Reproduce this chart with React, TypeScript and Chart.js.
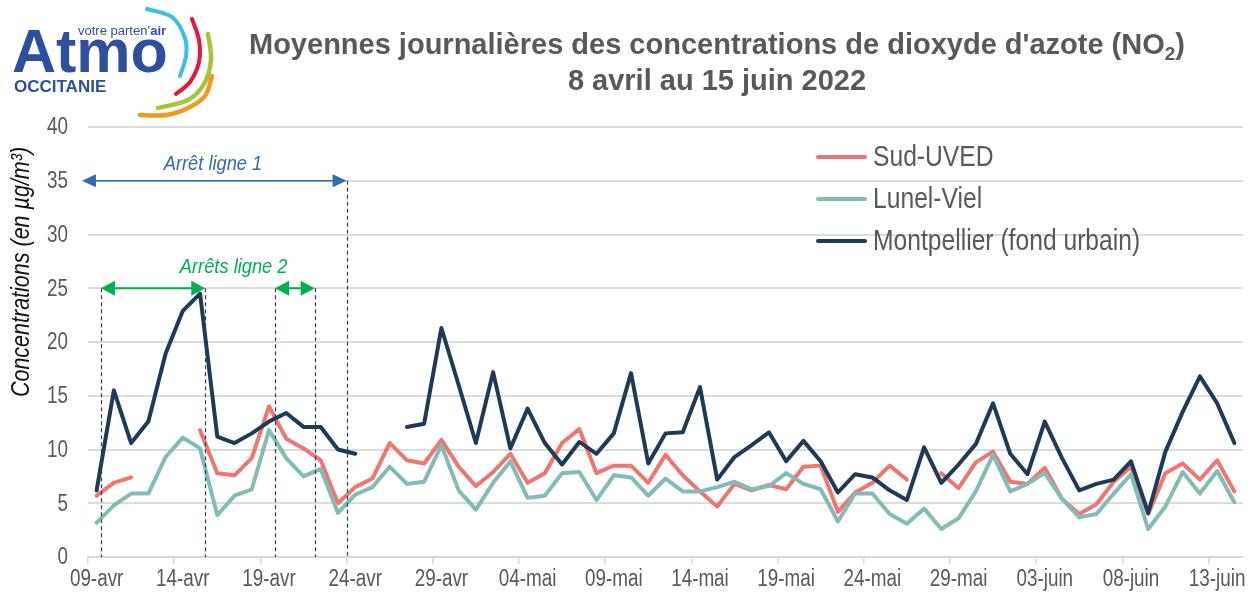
import React, { useEffect, useRef } from 'react';
import { Chart, registerables } from 'chart.js';

Chart.register(...registerables);

const categories = [
  '09-avr', '10-avr', '11-avr', '12-avr', '13-avr', '14-avr', '15-avr', '16-avr', '17-avr', '18-avr',
  '19-avr', '20-avr', '21-avr', '22-avr', '23-avr', '24-avr', '25-avr', '26-avr', '27-avr', '28-avr',
  '29-avr', '30-avr', '01-mai', '02-mai', '03-mai', '04-mai', '05-mai', '06-mai', '07-mai', '08-mai',
  '09-mai', '10-mai', '11-mai', '12-mai', '13-mai', '14-mai', '15-mai', '16-mai', '17-mai', '18-mai',
  '19-mai', '20-mai', '21-mai', '22-mai', '23-mai', '24-mai', '25-mai', '26-mai', '27-mai', '28-mai',
  '29-mai', '30-mai', '31-mai', '01-juin', '02-juin', '03-juin', '04-juin', '05-juin', '06-juin', '07-juin',
  '08-juin', '09-juin', '10-juin', '11-juin', '12-juin', '13-juin', '14-juin',
];

const sudUved = [
  5.7, 6.9, 7.4, null, null, null, 11.8, 7.8, 7.6, 9.2,
  14.0, 11.0, 10.1, 9.0, 5.0, 6.5, 7.3, 10.6, 9.0, 8.7,
  10.9, 8.4, 6.6, 7.9, 9.6, 6.9, 7.8, 10.6, 11.9, 7.8,
  8.5, 8.5, 6.9, 9.5, 7.6, 6.1, 4.7, 6.8, 6.2, 6.7,
  6.3, 8.4, 8.5, 4.2, 6.0, 6.9, 8.5, 7.2, null, 7.8,
  6.4, 8.8, 9.8, 7.0, 6.8, 8.3, 5.4, 4.0, 4.9, 7.0,
  8.4, 4.0, 7.8, 8.7, 7.2, 9.0, 6.1,
];

const lunelViel = [
  3.2, 4.8, 5.9, 5.9, 9.3, 11.1, 10.1, 3.9, 5.7, 6.3,
  11.8, 9.2, 7.5, 8.2, 4.1, 5.8, 6.5, 8.4, 6.8, 7.0,
  10.4, 6.2, 4.4, 6.9, 8.9, 5.5, 5.7, 7.8, 7.9, 5.3,
  7.6, 7.4, 5.7, 7.3, 6.1, 6.1, 6.5, 7.0, 6.3, 6.6,
  7.8, 6.8, 6.3, 3.3, 5.9, 5.9, 4.0, 3.1, 4.5, 2.6,
  3.6, 6.1, 9.5, 6.1, 6.8, 7.8, 5.4, 3.7, 4.0, 5.9,
  7.7, 2.6, 4.7, 7.9, 5.9, 8.0, 5.1,
];

const montpellier = [
  6.2, 15.5, 10.6, 12.6, 18.9, 22.9, 24.5, 11.2, 10.6, 11.5,
  12.6, 13.4, 12.1, 12.1, 10.0, 9.6, null, null, 12.1, 12.4,
  21.3, 16.0, 10.6, 17.2, 10.1, 13.8, 10.6, 8.6, 10.7, 9.6,
  11.5, 17.1, 8.7, 11.5, 11.6, 15.8, 7.2, 9.3, 10.4, 11.6,
  8.9, 10.8, 8.9, 6.0, 7.7, 7.4, 6.2, 5.3, 10.2, 6.9,
  8.6, 10.5, 14.3, 9.6, 7.7, 12.6, 9.2, 6.2, 6.8, 7.2,
  8.9, 4.1, 9.8, 13.5, 16.8, 14.3, 10.6,
];

const seriesNames = ['Sud-UVED', 'Lunel-Viel', 'Montpellier (fond urbain)'];
const seriesColors = ['#ef7571', '#82bcb9', '#1f3a55'];

const yMin = 0;
const yMax = 40;
const yStep = 5;
const xLabelEvery = 5;

const titleMain = "Moyennes journalières des concentrations de dioxyde d'azote (NO";
const titleSub = '2';
const titleEnd = ')';
const titleLine2 = '8 avril au 15 juin 2022';
const yAxisTitle = 'Concentrations (en µg/m³)';

// annotations, in category-index units (x) and concentration units (y)
const stop1Label = 'Arrêt ligne 1';
const stop1Range = [-0.85, 14.5];
const stop1Level = 35;
const stop1LabelPos = [6.75, 36.5];
const stop2Label = 'Arrêts ligne 2';
const stop2Ranges = [[0.25, 6.3], [10.35, 12.65]];
const stop2Level = 25;
const stop2LabelPos = [7.95, 27.0];
const dashedMarks25 = [0.25, 6.3, 10.35, 12.65];
const dashedMarks35 = [14.5];

const SANS = "'Liberation Sans', Arial, sans-serif";
const GREY = '#595959';

// draws text horizontally condensed, imitating Arial Narrow
function narrowText(ctx: CanvasRenderingContext2D, text: string, x: number, y: number, sx: number) {
  ctx.save();
  ctx.translate(x, y);
  ctx.scale(sx, 1);
  ctx.fillText(text, 0, 0);
  ctx.restore();
}

function smoothCurve(ctx: CanvasRenderingContext2D, pts: number[][]) {
  ctx.beginPath();
  ctx.moveTo(pts[0][0], pts[0][1]);
  for (let i = 0; i < pts.length - 1; i++) {
    const p0 = pts[Math.max(0, i - 1)];
    const p1 = pts[i];
    const p2 = pts[i + 1];
    const p3 = pts[Math.min(pts.length - 1, i + 2)];
    const c1x = p1[0] + (p2[0] - p0[0]) / 6;
    const c1y = p1[1] + (p2[1] - p0[1]) / 6;
    const c2x = p2[0] - (p3[0] - p1[0]) / 6;
    const c2y = p2[1] - (p3[1] - p1[1]) / 6;
    ctx.bezierCurveTo(c1x, c1y, c2x, c2y, p2[0], p2[1]);
  }
  ctx.stroke();
}

function drawLogo(ctx: CanvasRenderingContext2D) {
  ctx.save();
  ctx.lineCap = 'round';
  ctx.lineWidth = 4;
  ctx.strokeStyle = '#3dbde9';
  smoothCurve(ctx, [[147, 9], [172, 17], [185, 38], [186, 56], [180, 76]]);
  ctx.strokeStyle = '#e2183f';
  smoothCurve(ctx, [[192, 19], [199, 40], [199, 62], [190, 82], [176, 94]]);
  ctx.strokeStyle = '#a8c43a';
  ctx.lineWidth = 4.5;
  smoothCurve(ctx, [[208, 34], [211, 60], [204, 84], [188, 100], [158, 108]]);
  ctx.strokeStyle = '#f39a1e';
  smoothCurve(ctx, [[212, 76], [205, 96], [188, 108], [166, 115], [140, 115]]);

  ctx.fillStyle = '#2d4f9c';
  ctx.textBaseline = 'alphabetic';
  ctx.textAlign = 'left';
  ctx.font = `bold 61px ${SANS}`;
  ctx.fillText('Atmo', 12, 72);
  ctx.font = `13px ${SANS}`;
  const pre = 'votre parten\u2019';
  ctx.fillText(pre, 78, 35);
  const w = ctx.measureText(pre).width;
  ctx.font = `bold 13px ${SANS}`;
  ctx.fillText('air', 78 + w, 35);
  ctx.font = `bold 17px ${SANS}`;
  ctx.fillText('OCCITANIE', 14, 92);
  ctx.restore();
}

function drawTitle(ctx: CanvasRenderingContext2D, cx: number) {
  ctx.save();
  ctx.fillStyle = GREY;
  ctx.textBaseline = 'alphabetic';
  ctx.textAlign = 'left';
  const big = `bold 29px ${SANS}`;
  const small = `bold 19px ${SANS}`;
  ctx.font = big;
  const w1 = ctx.measureText(titleMain).width;
  const w3 = ctx.measureText(titleEnd).width;
  ctx.font = small;
  const w2 = ctx.measureText(titleSub).width;
  let x = cx - (w1 + w2 + w3) / 2;
  ctx.font = big;
  ctx.fillText(titleMain, x, 54);
  x += w1;
  ctx.font = small;
  ctx.fillText(titleSub, x, 60);
  x += w2;
  ctx.font = big;
  ctx.fillText(titleEnd, x, 54);
  ctx.textAlign = 'center';
  ctx.fillText(titleLine2, cx, 90);
  ctx.restore();
}

function drawArrow(ctx: CanvasRenderingContext2D, x1: number, x2: number, y: number, color: string, len: number, half: number, lw: number) {
  ctx.save();
  ctx.strokeStyle = color;
  ctx.fillStyle = color;
  ctx.lineWidth = lw;
  ctx.setLineDash([]);
  ctx.beginPath();
  ctx.moveTo(x1 + len - 1, y);
  ctx.lineTo(x2 - len + 1, y);
  ctx.stroke();
  ctx.beginPath();
  ctx.moveTo(x1, y);
  ctx.lineTo(x1 + len, y - half);
  ctx.lineTo(x1 + len, y + half);
  ctx.closePath();
  ctx.fill();
  ctx.beginPath();
  ctx.moveTo(x2, y);
  ctx.lineTo(x2 - len, y - half);
  ctx.lineTo(x2 - len, y + half);
  ctx.closePath();
  ctx.fill();
  ctx.restore();
}

const decorPlugin = {
  id: 'decor',
  afterDatasetsDraw(chart: any) {
    const { ctx, scales } = chart;
    const x = scales.x;
    const y = scales.y;
    const y0 = y.getPixelForValue(0);
    ctx.save();
    ctx.strokeStyle = '#2a3f58';
    ctx.lineWidth = 1.2;
    ctx.setLineDash([4, 3]);
    const dash = (pos: number, level: number) => {
      const px = Math.round(x.getPixelForValue(pos)) + 0.5;
      ctx.beginPath();
      ctx.moveTo(px, y.getPixelForValue(level));
      ctx.lineTo(px, y0);
      ctx.stroke();
    };
    dashedMarks25.forEach((p) => dash(p, stop2Level));
    dashedMarks35.forEach((p) => dash(p, stop1Level));
    ctx.restore();

    const blue = '#2f6dab';
    const green = '#00b050';
    drawArrow(ctx, x.getPixelForValue(stop1Range[0]), x.getPixelForValue(stop1Range[1]), y.getPixelForValue(stop1Level), blue, 14, 6.5, 1.5);
    stop2Ranges.forEach((r) => {
      drawArrow(ctx, x.getPixelForValue(r[0]), x.getPixelForValue(r[1]), y.getPixelForValue(stop2Level), green, 14, 7.5, 2);
    });

    ctx.save();
    ctx.textAlign = 'center';
    ctx.textBaseline = 'middle';
    ctx.font = `italic 21px ${SANS}`;
    ctx.fillStyle = blue;
    narrowText(ctx, stop1Label, x.getPixelForValue(stop1LabelPos[0]), y.getPixelForValue(stop1LabelPos[1]), 0.87);
    ctx.fillStyle = green;
    narrowText(ctx, stop2Label, x.getPixelForValue(stop2LabelPos[0]), y.getPixelForValue(stop2LabelPos[1]), 0.87);
    ctx.restore();
  },
  afterDraw(chart: any) {
    const { ctx, scales } = chart;
    const x = scales.x;
    const y = scales.y;

    // axis tick labels (condensed face, positioned by the chart's own scales)
    ctx.save();
    ctx.fillStyle = GREY;
    ctx.font = `23px ${SANS}`;
    ctx.textBaseline = 'middle';
    ctx.textAlign = 'center';
    x.ticks.forEach((_t: any, i: number) => {
      if (i % xLabelEvery !== 0) return;
      narrowText(ctx, categories[i], x.getPixelForTick(i), x.bottom - 17, 0.82);
    });
    ctx.textAlign = 'right';
    y.ticks.forEach((t: any) => {
      narrowText(ctx, String(t.value), x.left - 20, y.getPixelForValue(t.value) + 1, 0.82);
    });
    ctx.restore();

    drawLogo(ctx);
    drawTitle(ctx, 717);

    // y axis title
    ctx.save();
    ctx.translate(22, 272);
    ctx.rotate(-Math.PI / 2);
    ctx.textAlign = 'center';
    ctx.textBaseline = 'middle';
    ctx.fillStyle = '#111111';
    ctx.font = `italic 25px ${SANS}`;
    narrowText(ctx, yAxisTitle, 0, 0, 0.86);
    ctx.restore();

    // legend
    ctx.save();
    ctx.font = `29px ${SANS}`;
    ctx.textAlign = 'left';
    ctx.textBaseline = 'middle';
    chart.data.datasets.forEach((ds: any, i: number) => {
      const ly = 157 + i * 42;
      ctx.strokeStyle = ds.borderColor;
      ctx.lineWidth = 4;
      ctx.lineCap = 'round';
      ctx.beginPath();
      ctx.moveTo(818, ly);
      ctx.lineTo(865, ly);
      ctx.stroke();
      ctx.fillStyle = GREY;
      narrowText(ctx, ds.label, 873, ly + 1, 0.85);
    });
    ctx.restore();
  },
};

export default function App() {
  const ref = useRef<HTMLCanvasElement | null>(null);
  useEffect(() => {
    if (!ref.current) return;
    const makeDs = (label: string, data: (number | null)[], color: string, order: number) => ({
      label,
      data,
      borderColor: color,
      backgroundColor: color,
      borderWidth: 4,
      pointRadius: 0,
      pointHoverRadius: 0,
      tension: 0,
      spanGaps: false,
      borderJoinStyle: 'round' as const,
      borderCapStyle: 'round' as const,
      order,
    });
    const chart = new Chart(ref.current, {
      type: 'line',
      data: {
        labels: categories,
        datasets: [
          makeDs(seriesNames[0], sudUved, seriesColors[0], 2),
          makeDs(seriesNames[1], lunelViel, seriesColors[1], 1),
          makeDs(seriesNames[2], montpellier, seriesColors[2], 0),
        ],
      },
      options: {
        responsive: false,
        animation: false,
        devicePixelRatio: 1,
        events: [],
        layout: { padding: { top: 127, right: 9, bottom: 0, left: 0 } },
        plugins: {
          legend: { display: false },
          title: { display: false },
          tooltip: { enabled: false },
        },
        scales: {
          x: {
            type: 'category',
            offset: true,
            grid: {
              offset: true,
              drawOnChartArea: false,
              drawTicks: true,
              tickLength: 7,
              lineWidth: 1.5,
              color: (c: any) => (typeof c.index === 'number' && c.index % xLabelEvery === 0 ? '#d9d9d9' : 'rgba(0,0,0,0)'),
            },
            border: { display: true, color: '#d9d9d9', width: 2 },
            ticks: { display: false, autoSkip: false, maxRotation: 0, minRotation: 0 },
            afterFit: (s: any) => {
              s.height = 40;
            },
          },
          y: {
            min: yMin,
            max: yMax,
            ticks: { display: false, stepSize: yStep },
            grid: { color: '#dcdcdc', lineWidth: 2, drawTicks: false },
            border: { display: false },
            afterFit: (s: any) => {
              s.width = 88;
            },
          },
        },
      },
      plugins: [decorPlugin],
    });
    return () => chart.destroy();
  }, []);
  return (
    <div style={{ position: 'absolute', left: 0, top: 0, width: 1252, height: 597, background: '#ffffff' }}>
      <canvas ref={ref} width={1252} height={597} style={{ display: 'block' }} />
    </div>
  );
}
